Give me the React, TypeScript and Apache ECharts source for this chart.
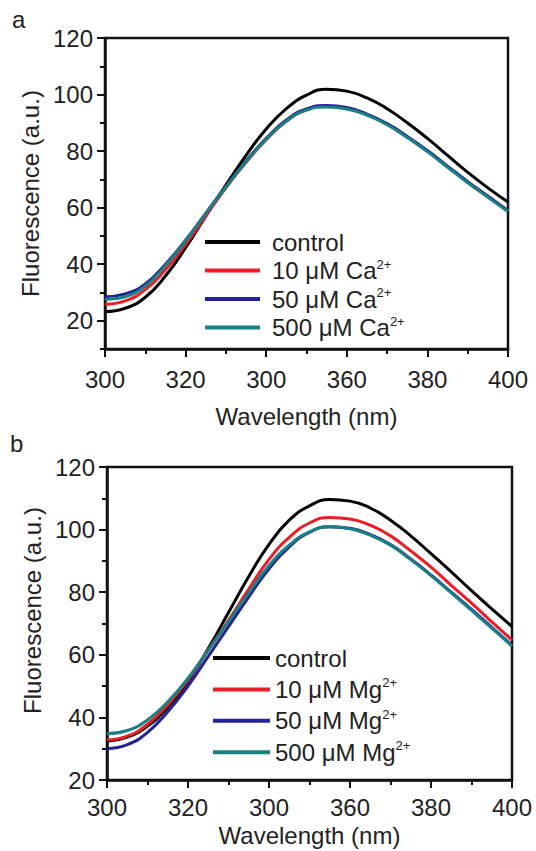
import React, { useEffect, useRef } from 'react';
import * as echarts from 'echarts';

const wavelengths = [300, 305, 310, 315, 320, 325, 330, 335, 340, 345, 350, 355, 360, 365, 370, 375, 380, 385, 390, 395, 400];
const xTickLabels = ['300', '320', '300', '360', '380', '400'];

// Panel a (Ca2+)
const caControl = [23.2, 24.4, 28.3, 35.8, 45.8, 57, 68, 78.5, 87.8, 95, 99.8, 101.9, 101.2, 98.8, 95, 90, 84.5, 78.5, 72.5, 67, 62];
const ca10 = [25.8, 27, 31, 38, 47, 57, 67, 76, 84, 90.5, 94.6, 95.9, 95.2, 92.9, 89.5, 85, 80, 74.5, 69, 64, 59];
const ca50 = [28.5, 29.5, 33, 40, 48.5, 58, 67.5, 76.5, 84.5, 91, 94.9, 96.1, 95.4, 93.1, 89.7, 85.2, 80.2, 74.7, 69.2, 64, 58.8];
const ca500 = [27.5, 28.5, 32.3, 39.5, 48.2, 57.8, 67.3, 76.2, 84.2, 90.6, 94.5, 95.6, 94.9, 92.7, 89.3, 84.8, 79.8, 74.3, 68.8, 63.7, 58.6];

// Panel b (Mg2+)
const mgControl = [32.4, 33.7, 37.2, 43.2, 51.5, 62, 73.5, 85, 95.3, 103, 107.6, 109.6, 109.1, 106.9, 103, 98, 92.3, 86.5, 80.5, 74.7, 69];
const mg10 = [32.8, 34, 37.8, 44, 52, 61.5, 71, 81, 90.5, 97.5, 102.1, 103.9, 103.4, 101.4, 98, 93.2, 88, 82.2, 76.5, 70.5, 64.7];
const mg50 = [30, 31.3, 35.2, 41.8, 50, 59.5, 69, 78.5, 87.5, 94.5, 99.1, 100.9, 100.4, 98.4, 95.2, 90.6, 85.5, 80, 74.5, 68.8, 63];
const mg500 = [34.8, 35.8, 39.2, 45, 52.5, 61.5, 70.6, 79.8, 88.5, 95, 99.3, 100.9, 100.3, 98.2, 95, 90.4, 85.3, 79.8, 74.2, 68.5, 62.8];

const namesA = ['control', '10 μM Ca²⁺', '50 μM Ca²⁺', '500 μM Ca²⁺'];
const namesB = ['control', '10 μM Mg²⁺', '50 μM Mg²⁺', '500 μM Mg²⁺'];
const colors = ['#000000', '#ee1c25', '#22229a', '#1a8080'];

const FONT = 'Liberation Sans, Arial, Helvetica, sans-serif';
const TXT = '#222222';
const AX = '#111111';

function pts(arr: number[]) {
  return wavelengths.map((w, i) => [w, arr[i]]);
}

function xAxisFor(gridIndex: number, labelMargin: number, nameGap: number) {
  return {
    type: 'value',
    gridIndex,
    min: 300,
    max: 400,
    interval: 20,
    name: 'Wavelength (nm)',
    nameLocation: 'middle',
    nameGap,
    nameTextStyle: { fontFamily: FONT, fontSize: 24, color: TXT },
    axisLine: { show: true, lineStyle: { color: AX, width: 2.5 } },
    axisTick: { show: true, length: 8, lineStyle: { color: AX, width: 2 } },
    minorTick: { show: true, splitNumber: 2, length: 5, lineStyle: { color: AX, width: 2 } },
    splitLine: { show: false },
    minorSplitLine: { show: false },
    axisLabel: {
      margin: labelMargin,
      fontFamily: FONT,
      fontSize: 24,
      color: TXT,
      formatter: (v: number) => xTickLabels[Math.round((v - 300) / 20)] ?? '',
    },
  };
}

function legendFor(names: string[], left: number, top: number, itemWidth: number, textGap: number, itemGap: number) {
  return {
    orient: 'vertical',
    left,
    top,
    padding: 0,
    data: names,
    icon: 'rect',
    itemWidth,
    itemHeight: 4,
    itemGap,
    textStyle: {
      fontFamily: FONT,
      fontSize: 24,
      color: TXT,
      lineHeight: 26,
      padding: [0, 0, 0, textGap - 5],
      rich: {
        sup: { fontFamily: FONT, fontSize: 13, color: TXT, verticalAlign: 'top', lineHeight: 13, padding: [0, 0, 9, 0] },
      },
    },
    formatter: (name: string) => name.replace('²⁺', '{sup|2+}'),
    selectedMode: false,
  };
}

export default function App() {
  const ref = useRef<HTMLDivElement>(null);
  useEffect(() => {
    document.body.style.margin = '0';
    const chart = echarts.init(ref.current!, undefined, { renderer: 'svg' });
    const seriesFor = (names: string[], data: number[][], xi: number, yi: number) =>
      names.map((n, i) => ({
        name: n,
        type: 'line',
        xAxisIndex: xi,
        yAxisIndex: yi,
        data: pts(data[i]),
        smooth: true,
        showSymbol: false,
        symbol: 'none',
        lineStyle: { color: colors[i], width: 3 },
        itemStyle: { color: colors[i] },
        z: 2 + i,
      }));
    const option = {
      animation: false,
      backgroundColor: '#ffffff',
      grid: [
        { left: 105, top: 38, width: 403, height: 311, show: true, borderColor: AX, borderWidth: 2.5, backgroundColor: 'transparent' },
        { left: 107, top: 467, width: 405, height: 313, show: true, borderColor: AX, borderWidth: 2.5, backgroundColor: 'transparent' },
      ],
      xAxis: [xAxisFor(0, 18, 55), xAxisFor(1, 15, 43)],
      yAxis: [
        {
          type: 'value',
          gridIndex: 0,
          min: 10,
          max: 120,
          interval: 10,
          name: 'Fluorescence (a.u.)',
          nameLocation: 'middle',
          nameGap: 60,
          nameTextStyle: { fontFamily: FONT, fontSize: 24, color: TXT },
          axisLine: { show: true, lineStyle: { color: AX, width: 2.5 } },
          axisTick: { show: true, length: 8, customValues: [20, 40, 60, 80, 100, 120], lineStyle: { color: AX, width: 2 } },
          axisLabel: { margin: 12, fontFamily: FONT, fontSize: 24, color: TXT, customValues: [20, 40, 60, 80, 100, 120] },
          splitLine: { show: false },
        },
        {
          type: 'value',
          gridIndex: 0,
          min: 10,
          max: 120,
          interval: 10,
          position: 'left',
          axisLine: { show: false },
          axisTick: { show: true, length: 5, customValues: [10, 30, 50, 70, 90, 110], lineStyle: { color: AX, width: 2 } },
          axisLabel: { show: false },
          splitLine: { show: false },
        },
        {
          type: 'value',
          gridIndex: 1,
          min: 20,
          max: 120,
          interval: 20,
          name: 'Fluorescence (a.u.)',
          nameLocation: 'middle',
          nameGap: 62,
          nameTextStyle: { fontFamily: FONT, fontSize: 24, color: TXT, padding: [0, 0, 0, 26] },
          axisLine: { show: true, lineStyle: { color: AX, width: 2.5 } },
          axisTick: { show: true, length: 8, lineStyle: { color: AX, width: 2 } },
          minorTick: { show: true, splitNumber: 2, length: 5, lineStyle: { color: AX, width: 2 } },
          axisLabel: { margin: 12, fontFamily: FONT, fontSize: 24, color: TXT },
          splitLine: { show: false },
          minorSplitLine: { show: false },
        },
      ],
      legend: [
        legendFor(namesA, 205, 229, 55, 12, 2.5),
        legendFor(namesB, 213, 645, 57, 5, 5.4),
      ],
      graphic: [
        { type: 'text', left: 12, top: 7, style: { text: 'a', fontFamily: FONT, fontSize: 24, fill: TXT } },
        { type: 'text', left: 10, top: 431, style: { text: 'b', fontFamily: FONT, fontSize: 24, fill: TXT } },
      ],
      series: [
        ...seriesFor(namesA, [caControl, ca10, ca50, ca500], 0, 0),
        ...seriesFor(namesB, [mgControl, mg10, mg50, mg500], 1, 2),
      ],
    };
    chart.setOption(option as any);
    return () => chart.dispose();
  }, []);
  return (
    <div
      ref={ref}
      style={{ position: 'absolute', left: 0, top: 0, width: 536, height: 851, background: '#fff' }}
    />
  );
}
